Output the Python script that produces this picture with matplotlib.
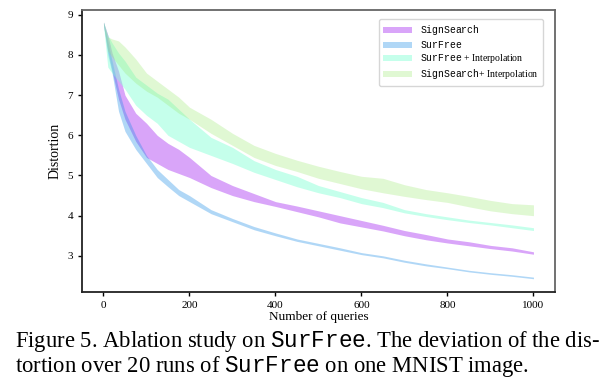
import numpy as np
import matplotlib
matplotlib.use("Agg")
import matplotlib.pyplot as plt

plt.rcParams['font.family'] = ['Liberation Serif', 'DejaVu Serif']
plt.rcParams['mathtext.fontset'] = 'custom'
plt.rcParams['mathtext.tt'] = 'Liberation Mono'
plt.rcParams['mathtext.rm'] = 'Liberation Serif'

queries = [0, 10, 20, 35, 50, 75, 100, 125, 150, 175, 200, 250, 300, 350, 400,
           450, 500, 550, 600, 650, 700, 750, 800, 850, 900, 950, 1000]

surfree_lo = [8.75, 8.0, 7.55, 6.6, 6.1, 5.65, 5.3, 4.95, 4.72, 4.5, 4.35, 4.05, 3.85, 3.65,
              3.5, 3.36, 3.25, 3.14, 3.03, 2.95, 2.84, 2.75, 2.68, 2.6, 2.54, 2.49, 2.43]
surfree_hi = [8.82, 8.35, 7.85, 7.15, 6.6, 6.0, 5.5, 5.15, 4.9, 4.65, 4.5, 4.15, 3.93, 3.73,
              3.57, 3.42, 3.31, 3.2, 3.08, 3.0, 2.89, 2.8, 2.72, 2.64, 2.58, 2.53, 2.47]

sign_lo = [8.75, 8.1, 7.6, 6.9, 6.4, 5.85, 5.45, 5.3, 5.15, 5.05, 4.95, 4.7, 4.5, 4.35,
           4.23, 4.1, 3.97, 3.82, 3.72, 3.62, 3.5, 3.4, 3.32, 3.25, 3.18, 3.12, 3.04]
sign_hi = [8.82, 8.5, 8.05, 7.6, 7.0, 6.55, 6.3, 6.0, 5.8, 5.65, 5.45, 5.0, 4.75, 4.55,
           4.35, 4.24, 4.12, 4.0, 3.88, 3.76, 3.63, 3.53, 3.42, 3.35, 3.26, 3.2, 3.1]

surfree_int_lo = [8.75, 7.7, 7.55, 7.35, 7.15, 6.75, 6.5, 6.3, 6.0, 5.85, 5.7, 5.5, 5.3, 5.08,
                  4.9, 4.72, 4.57, 4.45, 4.3, 4.2, 4.07, 3.98, 3.9, 3.83, 3.77, 3.7, 3.63]
surfree_int_hi = [8.82, 8.5, 8.3, 8.05, 7.85, 7.45, 7.25, 7.05, 6.9, 6.65, 6.4, 5.95, 5.7, 5.37,
                  5.15, 4.98, 4.75, 4.6, 4.45, 4.33, 4.15, 4.05, 3.97, 3.89, 3.83, 3.77, 3.7]

sign_int_lo = [8.75, 8.1, 7.95, 7.75, 7.55, 7.3, 7.1, 6.95, 6.75, 6.55, 6.4, 6.05, 5.75, 5.45,
               5.25, 5.1, 4.93, 4.8, 4.67, 4.57, 4.48, 4.4, 4.33, 4.22, 4.12, 4.05, 4.0]
sign_int_hi = [8.82, 8.45, 8.4, 8.35, 8.2, 7.9, 7.55, 7.35, 7.15, 6.95, 6.7, 6.4, 6.05, 5.75,
               5.55, 5.38, 5.23, 5.1, 4.98, 4.93, 4.77, 4.65, 4.57, 4.48, 4.38, 4.3, 4.27]

fig = plt.figure(figsize=(6.1, 3.85), dpi=100)
ax = fig.add_axes([0.1344, 0.2416, 0.7754, 0.7324])

ax.fill_between(queries, sign_lo, sign_hi, color='#a020f0', alpha=0.4, lw=0,
                label=r'$\mathtt{SignSearch}$')
ax.fill_between(queries, surfree_lo, surfree_hi, color='#1f8ee8', alpha=0.35, lw=0,
                label=r'$\mathtt{SurFree}$')
ax.fill_between(queries, surfree_int_lo, surfree_int_hi, color='#7fffd4', alpha=0.45, lw=0,
                label=r'$\mathtt{SurFree}$ + Interpolation')
ax.fill_between(queries, sign_int_lo, sign_int_hi, color='#9be870', alpha=0.3, lw=0,
                label=r'$\mathtt{SignSearch}$+ Interpolation')

ax.set_xlim(-50, 1050)
ax.set_ylim(2.1, 9.12)
ax.set_xticks([0, 200, 400, 600, 800, 1000])
ax.set_yticks([3, 4, 5, 6, 7, 8, 9])
ax.tick_params(labelsize=8, length=3, width=1, direction='out')
for side in ['top', 'right']:
    ax.spines[side].set_color('#666666')
    ax.spines[side].set_linewidth(1.3)
for side in ['left', 'bottom']:
    ax.spines[side].set_color('#222222')
    ax.spines[side].set_linewidth(1.3)

ax.set_xlabel('Number of queries', fontsize=9.5, labelpad=1)
ax.set_ylabel('Distortion', fontsize=10)

leg = ax.legend(loc='upper right', fontsize=7, frameon=True, fancybox=True,
                edgecolor='#cccccc', handlelength=3.0, borderpad=0.45, labelspacing=0.2,
                bbox_to_anchor=(0.985, 0.985))

fig.text(0.025, 0.113, r'Figure 5. Ablation study on $\mathtt{SurFree}$. The deviation of the dis-',
         fontsize=16.3, ha='left', va='center')
fig.text(0.025, 0.048, r'tortion over 20 runs of $\mathtt{SurFree}$ on one MNIST image.',
         fontsize=16.3, ha='left', va='center')

fig.savefig('out.png', dpi=100)
